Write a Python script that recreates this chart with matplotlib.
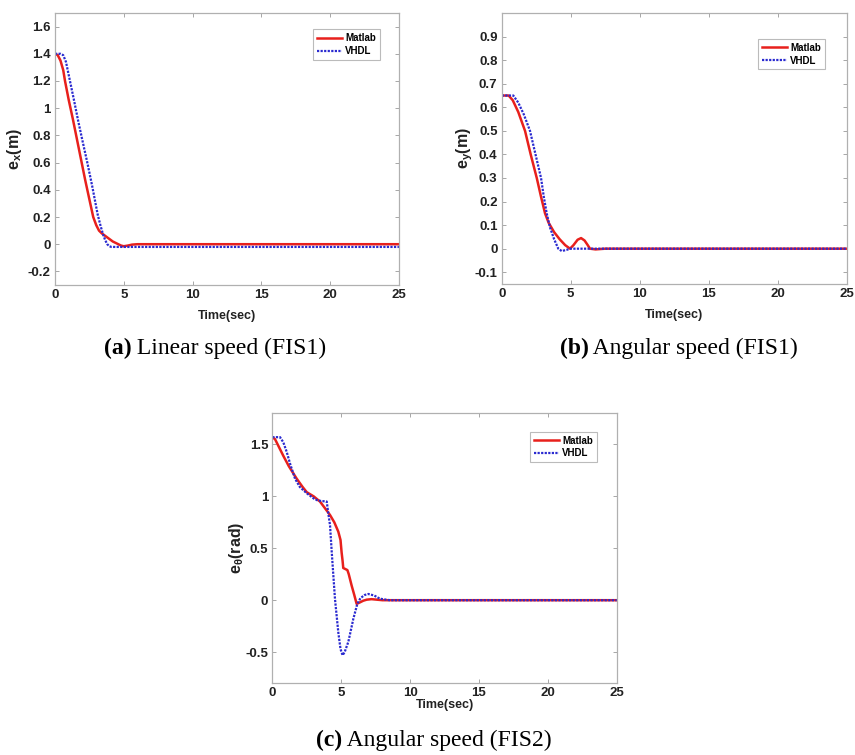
import matplotlib
matplotlib.use("Agg")
import matplotlib.pyplot as plt
from matplotlib.ticker import FuncFormatter

# ---------------- data ----------------
a_t_matlab = [0, 0.2, 0.4, 0.6, 0.73, 1.0, 1.3, 1.6, 1.94, 2.2, 2.5, 2.78, 3.0, 3.2, 3.4,
              3.6, 3.8, 4.0, 4.2, 4.5, 4.8, 5.0, 5.3, 5.6, 6.0, 25]
a_matlab = [1.40, 1.39, 1.35, 1.28, 1.20, 1.06, 0.92, 0.77, 0.60, 0.47, 0.33, 0.20, 0.14, 0.10, 0.08,
            0.065, 0.05, 0.035, 0.02, 0.005, -0.01, -0.015, -0.01, -0.003, 0.0, 0.0]
a_t_vhdl = [0, 0.4, 0.6, 0.8, 1.09, 1.4, 1.7, 2.0, 2.35, 2.7, 3.1, 3.3, 3.5, 3.65, 3.8, 3.95,
            4.1, 4.3, 25]
a_vhdl = [1.40, 1.40, 1.39, 1.34, 1.20, 1.05, 0.90, 0.76, 0.60, 0.43, 0.22, 0.14, 0.07, 0.03, 0.0,
          -0.015, -0.02, -0.02, -0.02]

b_t_matlab = [0, 0.5, 0.8, 1.2, 1.69, 2.1, 2.54, 2.85, 3.14, 3.4, 3.8, 4.2, 4.6, 4.95, 5.2, 5.5,
              5.75, 6.0, 6.2, 6.4, 6.8, 7.5, 25]
b_matlab = [0.65, 0.65, 0.63, 0.58, 0.50, 0.40, 0.30, 0.22, 0.15, 0.11, 0.07, 0.04, 0.015, 0.0, 0.015,
            0.038, 0.045, 0.035, 0.018, 0.0, -0.003, 0.0, 0.0]
b_t_vhdl = [0, 0.84, 1.2, 1.6, 2.05, 2.45, 2.85, 3.05, 3.26, 3.5, 3.8, 4.1, 4.35, 4.7, 4.95, 25]
b_vhdl = [0.65, 0.65, 0.62, 0.57, 0.50, 0.40, 0.30, 0.22, 0.15, 0.09, 0.04, 0.0, -0.01, -0.005, 0.0, 0.0]

c_t_matlab = [0, 0.2, 0.5, 0.8, 1.2, 1.77, 2.2, 2.5, 3.0, 3.46, 3.8, 4.19, 4.5, 4.79, 4.95, 5.03,
              5.1, 5.15, 5.3, 5.45, 5.55, 5.76, 5.95, 6.12, 6.3, 6.6, 6.85, 7.2, 7.6, 8.0, 25]
c_matlab = [1.57, 1.55, 1.47, 1.39, 1.29, 1.17, 1.09, 1.04, 1.00, 0.95, 0.89, 0.82, 0.75, 0.66, 0.58,
            0.46, 0.38, 0.31, 0.30, 0.29, 0.25, 0.14, 0.05, -0.035, -0.025, -0.005, 0.005, 0.01,
            0.005, 0.0, 0.0]
c_t_vhdl = [0, 0.56, 0.8, 1.04, 1.3, 1.65, 2.0, 2.5, 3.0, 3.3, 3.6, 3.95, 4.05, 4.19, 4.31, 4.45,
            4.55, 4.79, 4.95, 5.1, 5.25, 5.52, 5.88, 6.17, 6.4, 6.7, 6.97, 7.4, 7.8, 8.5, 25]
c_vhdl = [1.57, 1.57, 1.52, 1.43, 1.31, 1.17, 1.09, 1.03, 0.98, 0.96, 0.955, 0.95, 0.85, 0.72, 0.47,
          0.20, 0.01, -0.31, -0.47, -0.53, -0.50, -0.40, -0.18, -0.035, 0.02, 0.05, 0.06, 0.045,
          0.015, 0.0, 0.0]

series_labels = ["Matlab", "VHDL"]
x_ticks = [0, 5, 10, 15, 20, 25]
a_yticks = [-0.2, 0, 0.2, 0.4, 0.6, 0.8, 1.0, 1.2, 1.4, 1.6]
b_yticks = [-0.1, 0, 0.1, 0.2, 0.3, 0.4, 0.5, 0.6, 0.7, 0.8, 0.9]
c_yticks = [-0.5, 0, 0.5, 1.0, 1.5]
xlabel = "Time(sec)"
ylabels = [r"e$_\mathbf{x}$(m)", r"e$_\mathbf{y}$(m)", r"e$_\mathbf{\theta}$(rad)"]
captions = [("(a)", " Linear speed (FIS1)"), ("(b)", " Angular speed (FIS1)"),
            ("(c)", " Angular speed (FIS2)")]

# ---------------- style ----------------
plt.rcParams["font.family"] = ["Liberation Sans", "DejaVu Sans"]
plt.rcParams["mathtext.fontset"] = "custom"
plt.rcParams["mathtext.bf"] = "Liberation Sans:bold"
plt.rcParams["mathtext.rm"] = "Liberation Sans:bold"
plt.rcParams["mathtext.it"] = "Liberation Sans:bold"

RED = "#e8201c"
BLUE = "#2a2ad0"

fig = plt.figure(figsize=(8.55, 7.55), dpi=100)

positions = [
    [0.0643, 0.6225, 0.4023, 0.3603],
    [0.5868, 0.6238, 0.4035, 0.3589],
    [0.3185, 0.0950, 0.4028, 0.3576],
]
ylims = [(-0.3, 1.7), (-0.15, 1.0), (-0.8, 1.8)]
yticks = [a_yticks, b_yticks, c_yticks]
data = [
    (a_t_matlab, a_matlab, a_t_vhdl, a_vhdl),
    (b_t_matlab, b_matlab, b_t_vhdl, b_vhdl),
    (c_t_matlab, c_matlab, c_t_vhdl, c_vhdl),
]
legend_anchor = [(0.945, 0.94), (0.936, 0.905), (0.942, 0.932)]
ylabel_x = [-0.119, -0.106, -0.105]
xlabel_pad = [6, 6, 0]

fmt = FuncFormatter(lambda v, p: ("%g" % round(v, 3)))

for i in range(3):
    ax = fig.add_axes(positions[i])
    tm, ym, tv, yv = data[i]
    ax.plot(tm, ym, color=RED, lw=1.8, label=series_labels[0])
    ax.plot(tv, yv, color=BLUE, lw=1.6, ls=(0, (1, 0.6)), label=series_labels[1])
    ax.set_xlim(0, 25)
    ax.set_ylim(*ylims[i])
    ax.set_xticks(x_ticks)
    ax.set_yticks(yticks[i])
    ax.yaxis.set_major_formatter(fmt)
    ax.xaxis.set_major_formatter(fmt)
    ax.tick_params(direction="in", length=3, width=0.6, color="#999999",
                   top=True, right=True, labelsize=9.5, pad=3)
    for lab in ax.get_xticklabels() + ax.get_yticklabels():
        lab.set_fontweight("bold")
        lab.set_color("#222222")
    for s in ax.spines.values():
        s.set_color("#b0b0b0")
        s.set_linewidth(0.9)
    ax.set_xlabel(xlabel, fontsize=9, fontweight="bold", labelpad=xlabel_pad[i], color="#222222")
    ax.set_ylabel(ylabels[i], fontsize=11.5, fontweight="bold", color="#222222", va="center")
    ax.yaxis.set_label_coords(ylabel_x[i], 0.5)
    leg = ax.legend(loc="upper right", bbox_to_anchor=legend_anchor[i],
                    prop={"weight": "bold", "size": 7}, frameon=True, fancybox=False,
                    handlelength=2.6, handletextpad=0.3, borderpad=0.4, labelspacing=0.3,
                    borderaxespad=0.0)
    leg.get_frame().set_edgecolor("#aaaaaa")
    leg.get_frame().set_linewidth(0.8)

# captions
cap_pos = [(0.2515, 0.538), (0.794, 0.538), (0.5076, 0.019)]
for (bold, rest), (cx, cy) in zip(captions, cap_pos):
    t1 = fig.text(0, 0, bold, fontsize=17, fontweight="bold",
                  family=["Liberation Serif", "DejaVu Serif"])
    t2 = fig.text(0, 0, rest, fontsize=17, family=["Liberation Serif", "DejaVu Serif"])
    fig.canvas.draw()
    r = fig.canvas.get_renderer()
    w1 = t1.get_window_extent(r).width / fig.bbox.width
    w2 = t2.get_window_extent(r).width / fig.bbox.width
    x0 = cx - (w1 + w2) / 2
    t1.set_position((x0, cy))
    t1.set_va("center")
    t2.set_position((x0 + w1, cy))
    t2.set_va("center")

fig.savefig("out.png", dpi=100)
